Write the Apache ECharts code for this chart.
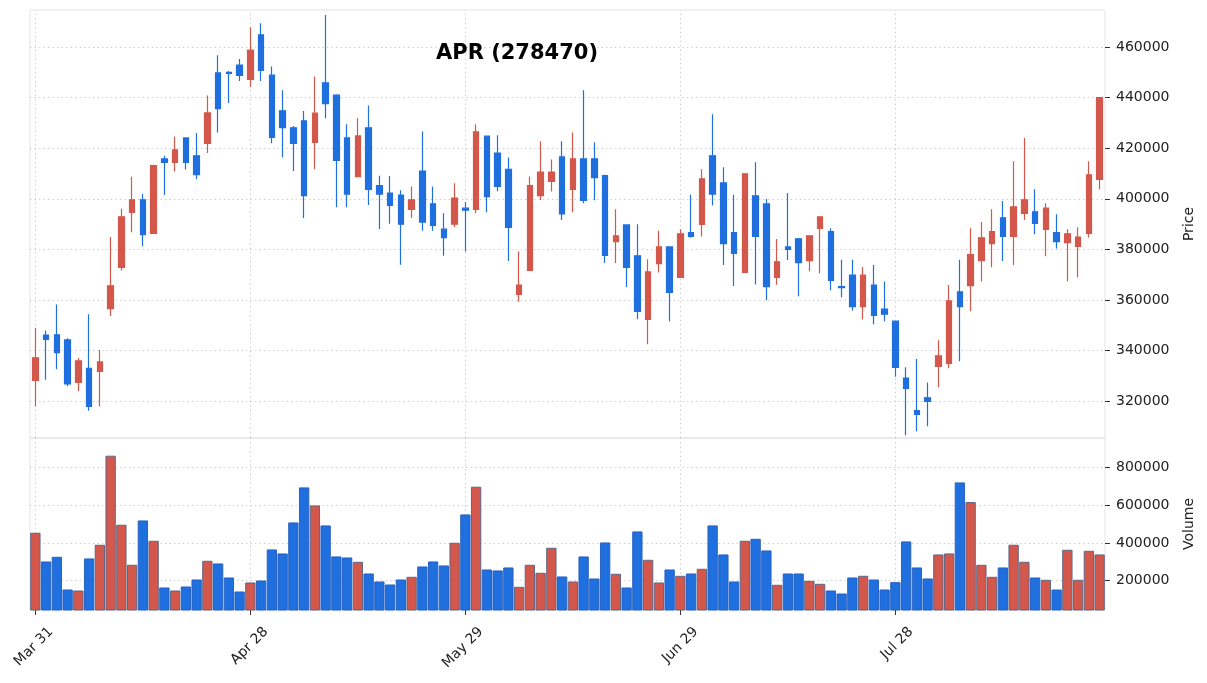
<!DOCTYPE html>
<html>
<head>
<meta charset="utf-8">
<title>APR (278470)</title>
<script src="https://cdn.jsdelivr.net/npm/echarts@6.0.0/dist/echarts.min.js"></script>
<style>
html, body { margin: 0; padding: 0; background: #fff; }
#main { width: 1207px; height: 683px; }
</style>
</head>
<body>
<div id="main"></div>
<script>
// daily bars, 100 sessions
var opens = [
  328200, 346100, 346200, 344200, 327400, 333000, 331700, 356600, 372900, 394600,
  399600, 386300, 415800, 414400, 424100, 417000, 421900, 449800, 450000, 452900,
  447200, 464900, 448900, 434800, 428100, 430900, 422300, 445900, 441000, 424100,
  408800, 428100, 405200, 402300, 401500, 395800, 411000, 398000, 388000, 390000,
  396300, 395800, 424800, 418100, 411700, 362200, 371700, 401300, 406900, 416600,
  403700, 415800, 415800, 409200, 383100, 389700, 377500, 352300, 374400, 381000,
  368900, 386600, 389900, 417000, 406300, 386600, 370900, 401200, 398000, 368900,
  381000, 384200, 375600, 388300, 387000, 365300, 369800, 357400, 365900, 356400,
  351600, 329100, 316200, 321300, 333700, 334900, 363200, 365700, 375600, 382300,
  392500, 385100, 394200, 394900, 387900, 386600, 382700, 381200, 386300, 407700
];
var highs = [
  348900, 347900, 358200, 344900, 337000, 354400, 340200, 384900, 396100, 408700,
  401900, 413500, 417000, 424700, 424100, 426000, 440900, 456800, 450600, 455300,
  467900, 469500, 452400, 443000, 428800, 434700, 448400, 472700, 441400, 429500,
  431900, 436900, 409100, 409000, 403400, 404900, 426600, 404900, 394300, 406200,
  398800, 429500, 424800, 425200, 416400, 379200, 408800, 422800, 415600, 422800,
  426200, 443000, 422400, 409500, 395900, 389700, 390000, 376100, 387400, 381000,
  388000, 401600, 411700, 433500, 412500, 401600, 409900, 414500, 399900, 384100,
  402300, 384500, 385400, 392900, 388400, 375900, 375900, 373000, 373800, 367300,
  351600, 333400, 336600, 327400, 344100, 365900, 375900, 388400, 390800, 395900,
  399100, 414900, 424100, 403800, 398300, 393900, 388000, 388800, 414900, 440000
];
var lows = [
  317900, 328400, 332600, 326000, 324000, 316200, 317900, 353700, 371700, 386800,
  381200, 386300, 401500, 410800, 411600, 407800, 418100, 426200, 437900, 446600,
  444200, 446600, 422000, 416500, 411000, 392400, 411700, 431900, 396700, 396700,
  408600, 397600, 388100, 390100, 373900, 392400, 387400, 387400, 377500, 388900,
  379200, 394300, 394700, 403000, 375400, 359300, 371700, 399500, 402900, 391600,
  394700, 398300, 399400, 374600, 374600, 365100, 352400, 342500, 370900, 351600,
  368900, 384600, 385100, 397400, 373800, 365500, 370900, 366100, 359900, 366000,
  375800, 361500, 371400, 370600, 363800, 361100, 355800, 352300, 350400, 351600,
  329600, 306500, 308100, 310000, 325500, 333000, 335800, 355500, 367300, 372900,
  375400, 373800, 391600, 386000, 377300, 380400, 367400, 369000, 384700, 403800
];
var closes = [
  337100, 344400, 339200, 326800, 335900, 317900, 335500, 365600, 392900, 399600,
  385800, 413200, 414400, 419400, 414400, 409600, 434000, 435700, 449600, 448800,
  458800, 450800, 424300, 428200, 421900, 401300, 433900, 437700, 415200, 401900,
  424900, 403700, 401900, 397400, 390000, 399600, 390800, 389500, 384700, 400300,
  395500, 426500, 400900, 404900, 388700, 365900, 405200, 410600, 410600, 394000,
  415800, 399400, 408400, 377600, 385400, 372900, 355500, 371100, 381000, 363000,
  386200, 385100, 407900, 401900, 382300, 378400, 409900, 385100, 365300, 375100,
  380000, 374800, 385400, 392900, 367700, 364900, 357400, 369800, 353900, 354400,
  333300, 325000, 314700, 319900, 337900, 359700, 357400, 377900, 384600, 387000,
  385100, 396800, 399600, 390300, 396300, 383100, 386200, 384900, 409500, 440000
];
var volumes = [
  453900, 301200, 326100, 152100, 146800, 317200, 390000, 863900, 496500, 283500,
  519500, 411300, 162800, 146800, 168100, 205400, 304800, 290600, 216000, 141500,
  189400, 200000, 365100, 343800, 508900, 695300, 599400, 492900, 327900, 322500,
  299500, 237300, 194700, 178800, 205400, 219600, 274600, 301200, 279900, 400600,
  551500, 698800, 258600, 253300, 269300, 166300, 283500, 240900, 374000, 221400,
  194700, 327900, 210700, 402400, 235600, 162800, 461000, 310100, 189400, 258600,
  224900, 237300, 262200, 492900, 338500, 194700, 411300, 421900, 359800, 177000,
  237300, 237300, 198200, 182300, 146800, 130800, 216000, 224900, 205400, 152100,
  191200, 407800, 269300, 210700, 338500, 343800, 721900, 617200, 283500, 219600,
  269300, 390000, 299500, 216000, 203600, 152100, 363400, 203600, 358000, 338500
];

// x axis labels sit on every 20th session
var tickIdx = [0, 20, 40, 60, 80];
var tickText = ['Mar 31', 'Apr 28', 'May 29', 'Jun 29', 'Jul 28'];
var priceTicks = [320000, 340000, 360000, 380000, 400000, 420000, 440000, 460000];
var volTicks = [200000, 400000, 600000, 800000];

var UP = '#d3574b', DOWN = '#1f6fde';
var FONT = 'DejaVu Sans';

var myChart = echarts.init(document.getElementById('main'));

var cats = opens.map(function (o, i) { return String(i); });
var kData = opens.map(function (o, i) { return [o, closes[i], lows[i], highs[i]]; });
var volData = volumes.map(function (v, i) {
  var up = closes[i] > opens[i];
  return { value: v, itemStyle: { color: up ? UP : DOWN, borderColor: up ? '#5d6686' : '#2a62c2' } };
});

// dotted grid drawn as mark lines so they stay behind the marks
function gridMarks(yVals) {
  var d = yVals.map(function (v) { return { yAxis: v }; });
  tickIdx.forEach(function (i) { d.push({ xAxis: cats[i] }); });
  return {
    silent: true, symbol: ['none', 'none'], z: 1, animation: false,
    label: { show: false },
    lineStyle: { color: '#cfcfcf', type: [1.5, 3], width: 1 },
    emphasis: { disabled: true },
    data: d
  };
}

function isTick(i) { return tickIdx.indexOf(i) >= 0; }

var yCommon = function (ticks) {
  return {
    axisLine: { show: false },
    splitLine: { show: false },
    axisTick: { show: true, length: 5, lineStyle: { color: '#333' }, customValues: ticks },
    axisLabel: {
      color: '#222', fontSize: 14, fontFamily: FONT, margin: 11, customValues: ticks,
      formatter: function (v) { return String(Math.round(v)); }
    },
    nameLocation: 'middle', nameRotate: 90, nameGap: 77,
    nameTextStyle: { color: '#222', fontSize: 14, fontFamily: FONT }
  };
};

var yPrice = Object.assign(yCommon(priceTicks), {
  type: 'value', gridIndex: 0, position: 'right', min: 305400, max: 474700, name: 'Price'
});
var yVol = Object.assign(yCommon(volTicks), {
  type: 'value', gridIndex: 1, position: 'right', min: 43000, max: 958000, name: 'Volume'
});

var option = {
  animation: false,
  backgroundColor: '#fff',
  title: {
    text: 'APR (278470)', left: 431, top: 38,
    textStyle: { fontFamily: FONT, fontWeight: 'bold', fontSize: 21, color: '#000' }
  },
  grid: [
    { left: 30, right: 102, top: 10, height: 428, outerBoundsMode: 'none', containLabel: false,
      show: true, borderColor: '#e4e4e4', borderWidth: 1, backgroundColor: 'transparent' },
    { left: 30, right: 102, top: 438, height: 172, outerBoundsMode: 'none', containLabel: false,
      show: true, borderColor: '#e4e4e4', borderWidth: 1, backgroundColor: 'transparent' }
  ],
  xAxis: [
    {
      type: 'category', gridIndex: 0, data: cats, boundaryGap: true,
      axisLine: { show: false }, axisTick: { show: false }, axisLabel: { show: false }, splitLine: { show: false }
    },
    {
      type: 'category', gridIndex: 1, data: cats, boundaryGap: true,
      axisLine: { show: false }, splitLine: { show: false },
      axisTick: { show: true, alignWithLabel: true, length: 5, interval: function (i) { return isTick(i); }, lineStyle: { color: '#333' } },
      axisLabel: {
        interval: function (i) { return isTick(i); }, rotate: 45, margin: 4,
        verticalAlign: 'top', lineHeight: 44,
        color: '#222', fontSize: 14, fontFamily: FONT,
        formatter: function (v, i) { var k = tickIdx.indexOf(i); return k >= 0 ? tickText[k] : ''; }
      }
    }
  ],
  yAxis: [yPrice, yVol],
  series: [
    {
      type: 'candlestick', xAxisIndex: 0, yAxisIndex: 0, z: 2,
      barWidth: '55%',
      itemStyle: { color: UP, color0: DOWN, borderColor: UP, borderColor0: DOWN, borderWidth: 1.2 },
      data: kData,
      markLine: gridMarks(priceTicks)
    },
    {
      type: 'bar', xAxisIndex: 1, yAxisIndex: 1, z: 2,
      barWidth: '96%',
      itemStyle: { borderWidth: 1 },
      data: volData,
      markLine: gridMarks(volTicks)
    }
  ]
};

myChart.setOption(option);
</script>
</body>
</html>
